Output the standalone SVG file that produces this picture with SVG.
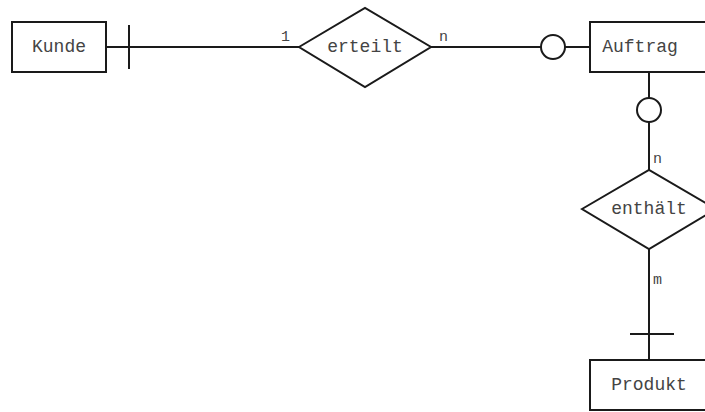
<svg xmlns="http://www.w3.org/2000/svg" width="705" height="412" viewBox="0 0 705 412">
<style>
.s{fill:none;stroke:#1a1a1a;stroke-width:2}
.b{fill:#fff;stroke:#1a1a1a;stroke-width:2}
.t{font-family:"Liberation Mono","Courier New",monospace;font-size:18px;fill:#444;text-anchor:middle}
.l{font-family:"Liberation Mono","Courier New",monospace;font-size:15px;fill:#444}
</style>
<rect width="705" height="412" fill="#fff"/>
<g id="connectors">
<line class="s" x1="106" y1="47" x2="299" y2="47"/>
<line class="s" x1="129" y1="25" x2="129" y2="69"/>
<text class="l" x="281" y="41">1</text>
<line class="s" x1="431" y1="47" x2="541" y2="47"/>
<circle class="b" cx="553" cy="47" r="12"/>
<line class="s" x1="565" y1="47" x2="590" y2="47"/>
<text class="l" x="439" y="41">n</text>
<line class="s" x1="649" y1="72" x2="649" y2="98"/>
<circle class="b" cx="649" cy="110" r="12"/>
<line class="s" x1="649" y1="122" x2="649" y2="170"/>
<text class="l" x="653" y="163">n</text>
<line class="s" x1="649" y1="249" x2="649" y2="360"/>
<line class="s" x1="630" y1="334" x2="674" y2="334"/>
<text class="l" x="653" y="284">m</text>
</g>
<g id="kunde">
<rect class="b" x="12" y="22" width="94" height="50"/>
<text class="t" x="59" y="52">Kunde</text>
</g>
<g id="erteilt">
<polygon class="b" points="299,47 365,8 431,47 365,87"/>
<text class="t" x="365" y="52">erteilt</text>
</g>
<g id="auftrag">
<rect class="b" x="590" y="22" width="120" height="50"/>
<text class="t" x="640" y="52">Auftrag</text>
</g>
<g id="enthaelt">
<polygon class="b" points="582,209 649,170 716,209 649,249"/>
<text class="t" x="649" y="214">enthält</text>
</g>
<g id="produkt">
<rect class="b" x="590" y="360" width="120" height="50"/>
<text class="t" x="649" y="390">Produkt</text>
</g>
</svg>
